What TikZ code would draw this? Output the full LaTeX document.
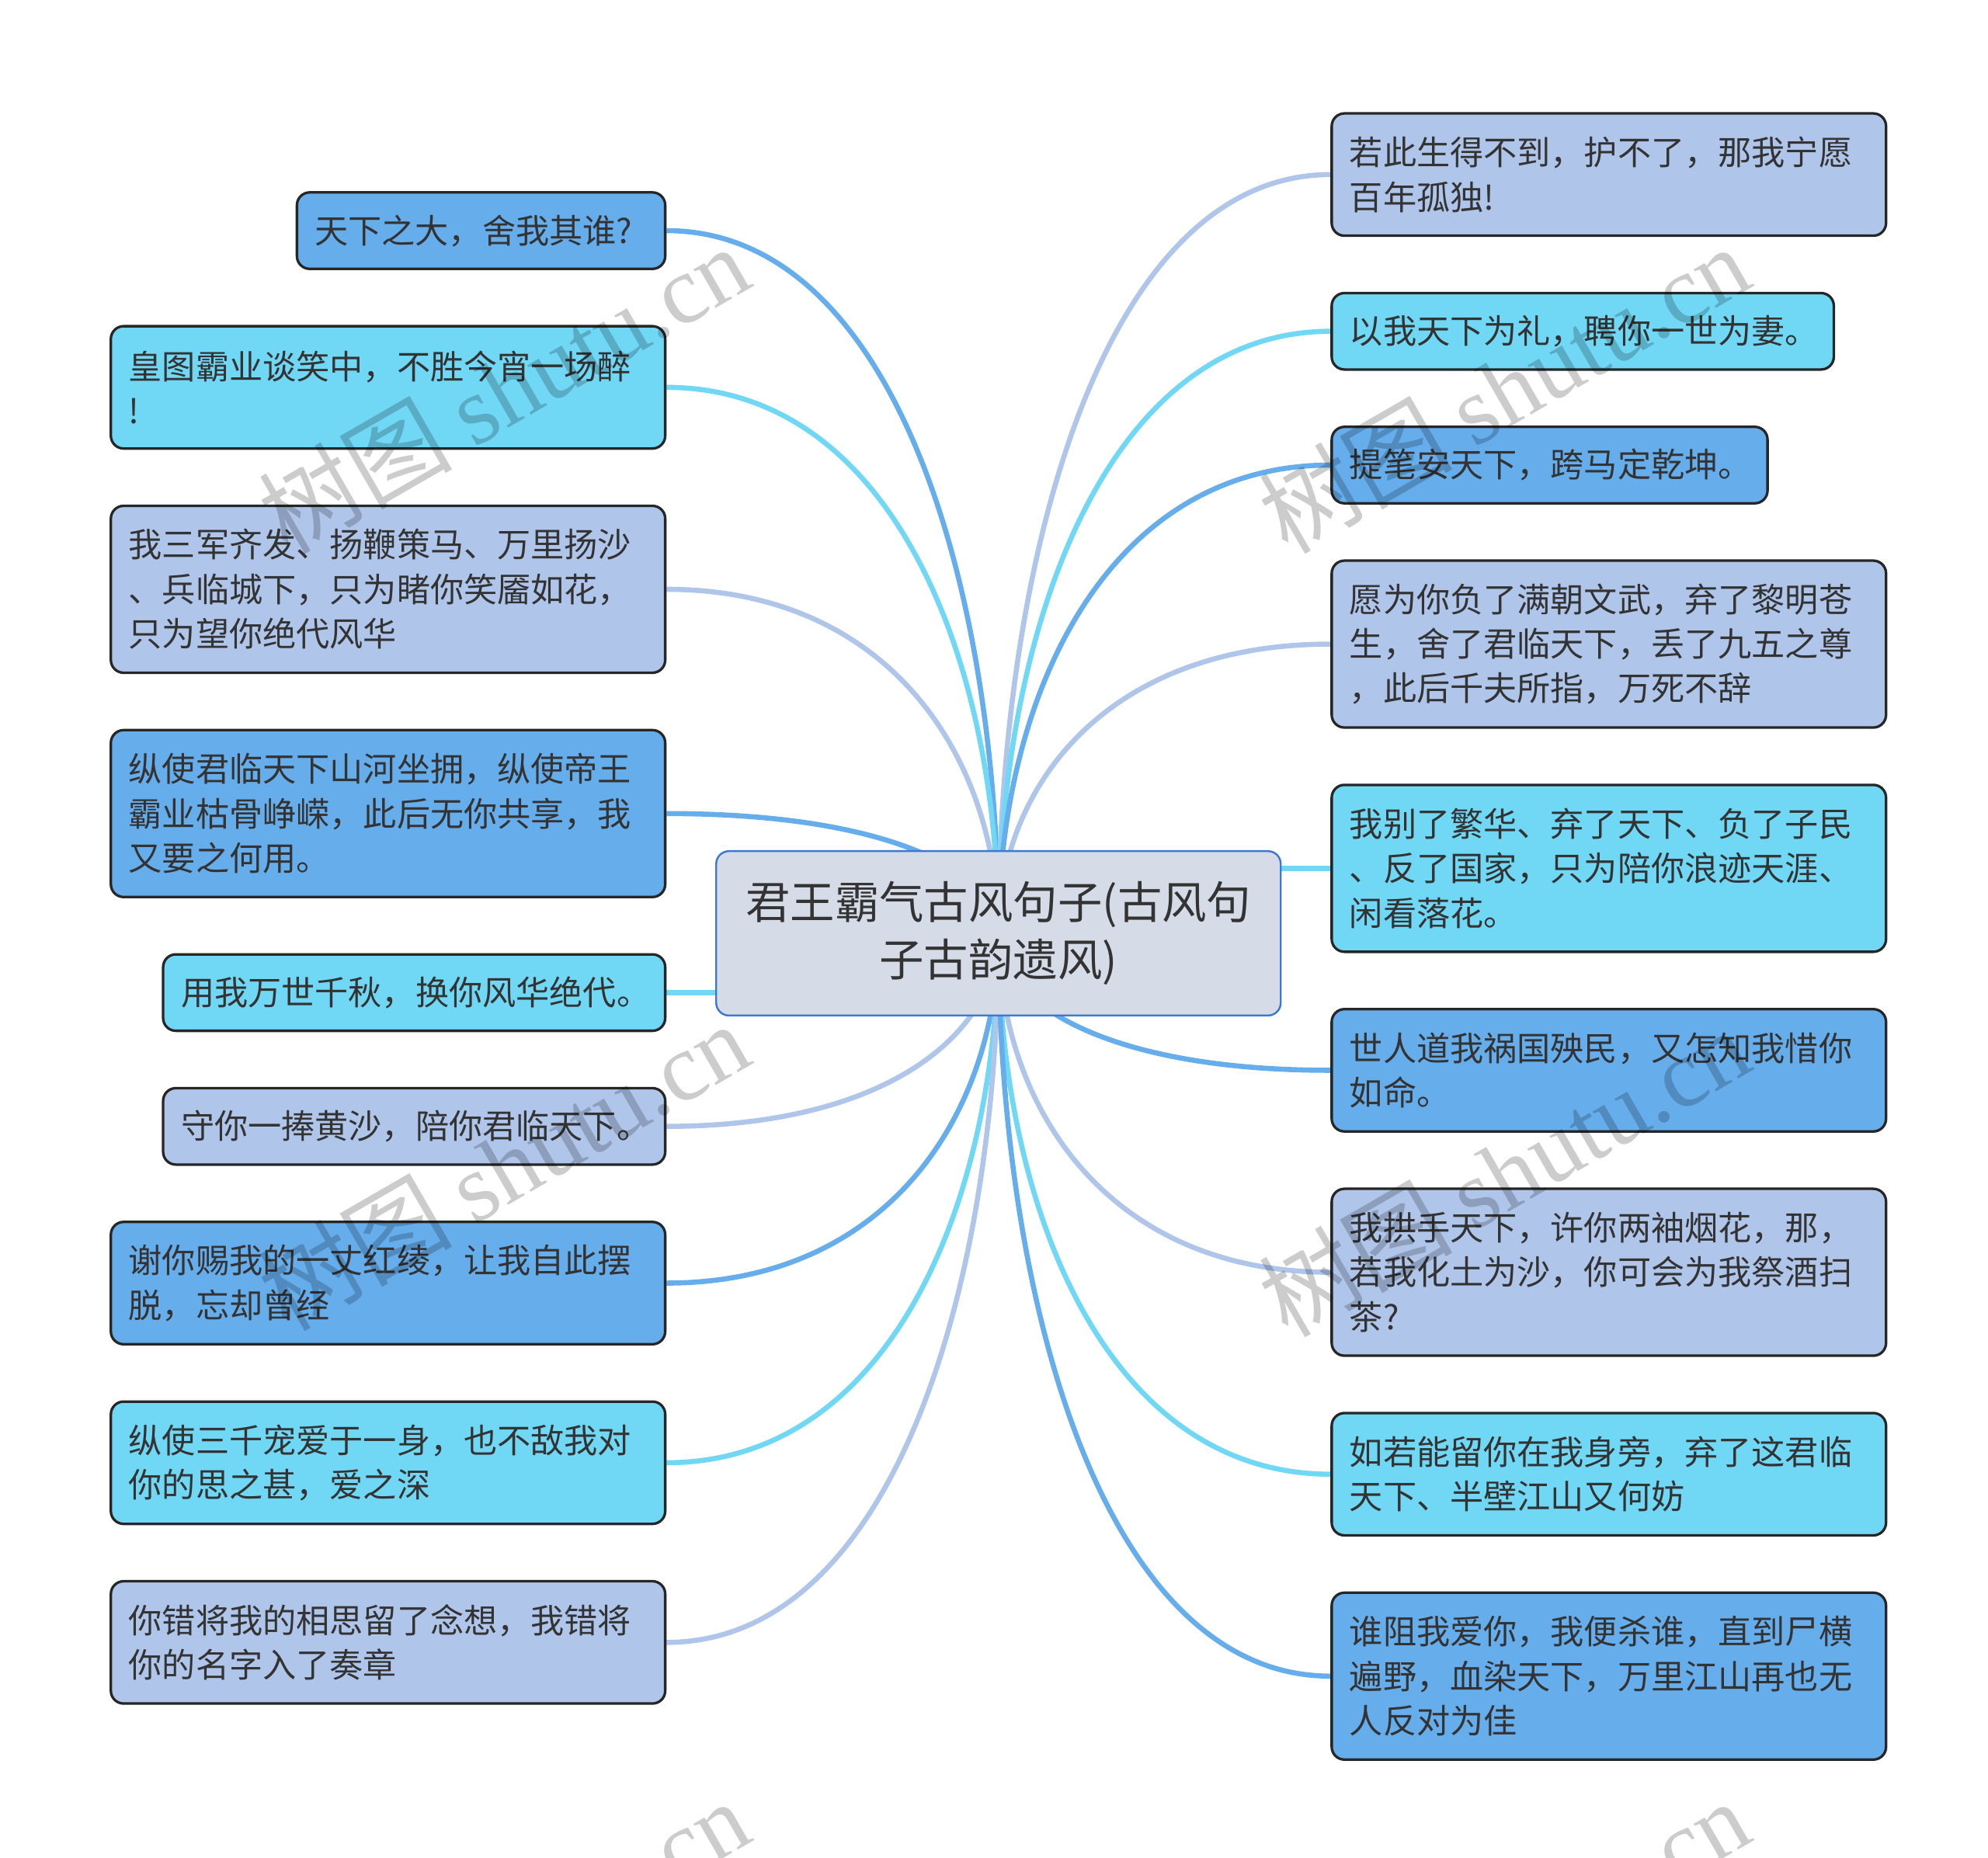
\documentclass[tikz,border=0pt]{standalone}
\usepackage{fontspec}
\setmainfont{Noto Sans CJK SC}
\newfontfamily\latinserif{Liberation Serif}
\usetikzlibrary{positioning,calc,backgrounds}

\definecolor{deepc}{HTML}{66ADEC}
\definecolor{skyc}{HTML}{70D8F5}
\definecolor{palec}{HTML}{AFC6EA}
\definecolor{rootfill}{HTML}{D5DCE8}
\definecolor{rootline}{HTML}{3F78D0}
\definecolor{inkc}{HTML}{333333}

\begin{document}
\begin{tikzpicture}[x=0.5pt, y=-0.5pt, node distance=21.5pt,
  leaf/.style = {draw=black!85, line width=1pt, rounded corners=5pt, align=left, inner xsep=7pt, inner ysep=0pt, text=inkc, font=\fontsize{13.15pt}{17.5pt}\selectfont},
  hub/.style = {draw=rootline, fill=rootfill, line width=0.75pt, rounded corners=5pt, minimum width=221.5pt, minimum height=64.5pt, align=center, text=inkc, font=\fontsize{17.5pt}{22.5pt}\selectfont},
  one/.style = {minimum height=30pt},
  two/.style = {minimum height=48pt},
  three/.style = {minimum height=65.5pt},
  wide/.style = {text width=203.5pt},
  deep/.style = {fill=deepc},
  sky/.style = {fill=skyc},
  pale/.style = {fill=palec},
  link/.style = {line width=2pt},
  twig/.style = {to path={let \p1=(\tikztostart), \p2=(\tikztotarget) in .. controls (\x1+0.68*\x2-0.68*\x1, \y1) and (\x2, 0.5*\y1+0.5*\y2) .. (\tikztotarget)}},
  wmark/.style = {rotate=30, text=black, text opacity=0.2, font=\fontsize{38pt}{38pt}\selectfont}
]
\useasboundingbox (0,0) rectangle (1560,1458);

\node[hub] (root) at (783.5,732.5) {君王霸气古风句子(古风句\\子古韵遗风)};

% left side
\node[leaf, deep, one, text width=130.5pt, anchor=north east] (l1) at (523,150) {天下之大，舍我其谁?};
\node[leaf, sky, two, wide, below=of l1.south east, anchor=north east] (l2) {皇图霸业谈笑中，不胜今宵一场醉\\!};
\node[leaf, pale, three, wide, below=of l2.south east, anchor=north east] (l3) {我三军齐发、扬鞭策马、万里扬沙\\、兵临城下，只为睹你笑靥如花，\\只为望你绝代风华};
\node[leaf, deep, three, wide, below=of l3.south east, anchor=north east] (l4) {纵使君临天下山河坐拥，纵使帝王\\霸业枯骨峥嵘，此后无你共享，我\\又要之何用。};
\node[leaf, sky, one, text width=183pt, below=of l4.south east, anchor=north east] (l5) {用我万世千秋，换你风华绝代。};
\node[leaf, pale, one, text width=183pt, below=of l5.south east, anchor=north east] (l6) {守你一捧黄沙，陪你君临天下。};
\node[leaf, deep, two, wide, below=of l6.south east, anchor=north east] (l7) {谢你赐我的一丈红绫，让我自此摆\\脱，忘却曾经};
\node[leaf, sky, two, wide, below=of l7.south east, anchor=north east] (l8) {纵使三千宠爱于一身，也不敌我对\\你的思之甚，爱之深};
\node[leaf, pale, two, wide, below=of l8.south east, anchor=north east] (l9) {你错将我的相思留了念想，我错将\\你的名字入了奏章};

% right side
\node[leaf, pale, two, wide, anchor=north west] (r1) at (1044,88) {若此生得不到，护不了，那我宁愿\\百年孤独!};
\node[leaf, sky, one, text width=183pt, below=of r1.south west, anchor=north west] (r2) {以我天下为礼，聘你一世为妻。};
\node[leaf, deep, one, text width=157pt, below=of r2.south west, anchor=north west] (r3) {提笔安天下，跨马定乾坤。};
\node[leaf, pale, three, wide, below=of r3.south west, anchor=north west] (r4) {愿为你负了满朝文武，弃了黎明苍\\生，舍了君临天下，丢了九五之尊\\，此后千夫所指，万死不辞};
\node[leaf, sky, three, wide, below=of r4.south west, anchor=north west] (r5) {我别了繁华、弃了天下、负了子民\\、反了国家，只为陪你浪迹天涯、\\闲看落花。};
\node[leaf, deep, two, wide, below=of r5.south west, anchor=north west] (r6) {世人道我祸国殃民，又怎知我惜你\\如命。};
\node[leaf, pale, three, wide, below=of r6.south west, anchor=north west] (r7) {我拱手天下，许你两袖烟花，那，\\若我化土为沙，你可会为我祭酒扫\\茶?};
\node[leaf, sky, two, wide, below=of r7.south west, anchor=north west] (r8) {如若能留你在我身旁，弃了这君临\\天下、半壁江山又何妨};
\node[leaf, deep, three, wide, below=of r8.south west, anchor=north west] (r9) {谁阻我爱你，我便杀谁，直到尸横\\遍野，血染天下，万里江山再也无\\人反对为佳};

\begin{pgfonlayer}{background}
\draw[link, deepc] (l1.east) to[twig] (root.center);
\draw[link, skyc] (l2.east) to[twig] (root.center);
\draw[link, palec] (l3.east) to[twig] (root.center);
\draw[link, deepc] (l4.east) to[twig] (root.center);
\draw[link, skyc] (l5.east) -- (l5.east -| root.west);
\draw[link, palec] (l6.east) to[twig] (root.center);
\draw[link, deepc] (l7.east) to[twig] (root.center);
\draw[link, skyc] (l8.east) to[twig] (root.center);
\draw[link, palec] (l9.east) to[twig] (root.center);
\draw[link, palec] (r1.west) to[twig] (root.center);
\draw[link, skyc] (r2.west) to[twig] (root.center);
\draw[link, deepc] (r3.west) to[twig] (root.center);
\draw[link, palec] (r4.west) to[twig] (root.center);
\draw[link, skyc] (r5.west) -- (r5.west -| root.east);
\draw[link, deepc] (r6.west) to[twig] (root.center);
\draw[link, palec] (r7.west) to[twig] (root.center);
\draw[link, skyc] (r8.west) to[twig] (root.center);
\draw[link, deepc] (r9.west) to[twig] (root.center);
\end{pgfonlayer}

% watermarks
\node[wmark] (w1) at (395,305) {树图 {\latinserif shutu.cn}};
\node[wmark] (w2) at (1180,305) {树图 {\latinserif shutu.cn}};
\node[wmark] (w3) at (395,915) {树图 {\latinserif shutu.cn}};
\node[wmark] (w4) at (1180,920) {树图 {\latinserif shutu.cn}};
\node[wmark] (w5) at (395,1525) {树图 {\latinserif shutu.cn}};
\node[wmark] (w6) at (1180,1525) {树图 {\latinserif shutu.cn}};
\end{tikzpicture}
\end{document}
